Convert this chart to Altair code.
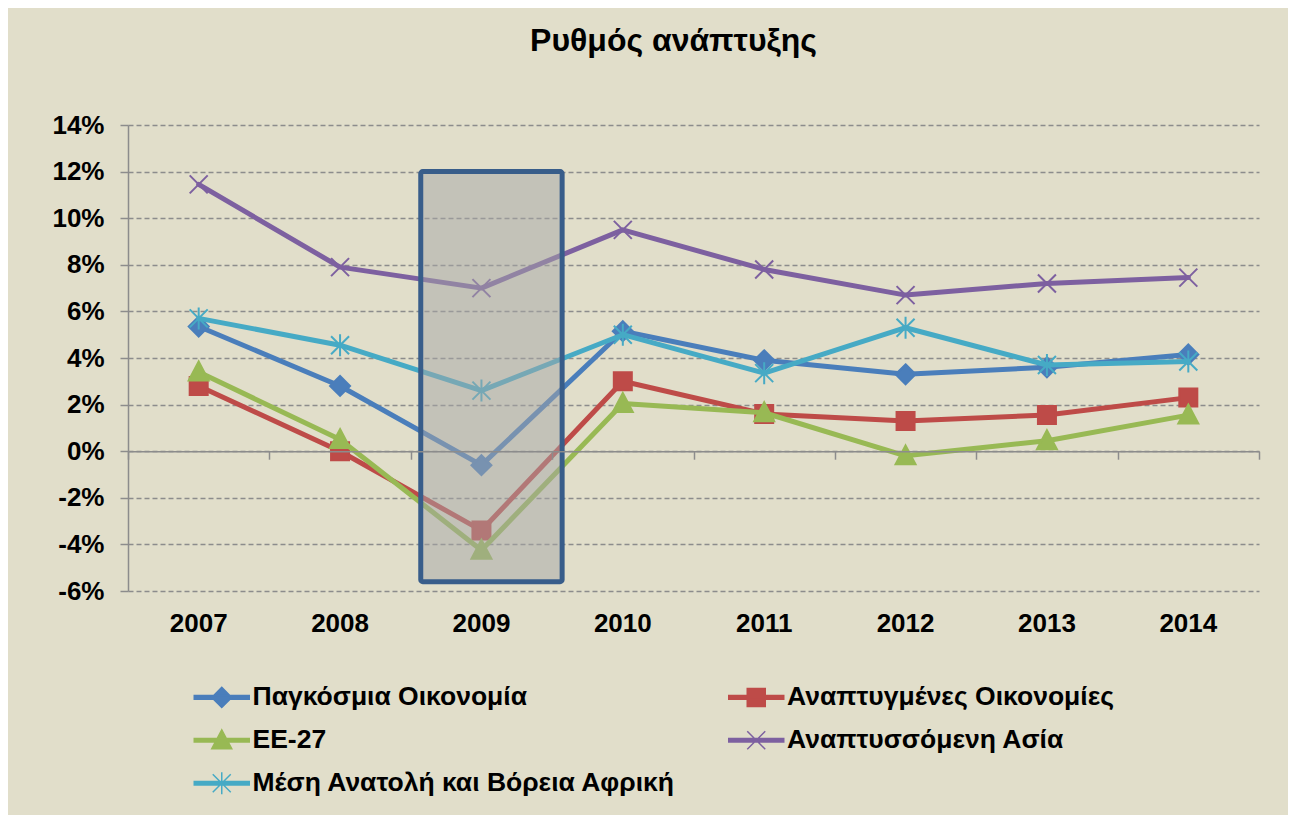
import altair as alt
import pandas as pd

# ---------------- data ----------------
years = ["2007", "2008", "2009", "2010", "2011", "2012", "2013", "2014"]
series_names = [
    "Παγκόσμια Οικονομία",
    "Αναπτυγμένες Οικονομίες",
    "ΕΕ-27",
    "Αναπτυσσόμενη Ασία",
    "Μέση Ανατολή και Βόρεια Αφρική",
]
world = [5.35, 2.8, -0.6, 5.15, 3.9, 3.3, 3.6, 4.15]
advanced = [2.8, 0.0, -3.4, 3.0, 1.6, 1.3, 1.55, 2.3]
eu27 = [3.4, 0.5, -4.25, 2.05, 1.65, -0.2, 0.45, 1.55]
asia = [11.45, 7.9, 7.0, 9.5, 7.8, 6.7, 7.2, 7.45]
mena = [5.7, 4.55, 2.6, 5.0, 3.35, 5.3, 3.7, 3.85]

box_year = ["2009"]
box_top = [12.0]
box_bottom = [-5.6]

title_text = "Ρυθμός ανάπτυξης"
y_ticks = [-6, -4, -2, 0, 2, 4, 6, 8, 10, 12, 14]

colors = ["#4A7EBB", "#BE4B48", "#98B954", "#7D60A0", "#46AAC5"]

marker_paths = [
    "M0,-1L1,0L0,1L-1,0Z",
    "M-0.9,-0.9H0.9V0.9H-0.9Z",
    "M0,-1.05L1,0.85H-1Z",
    "M-0.9,-0.9L0.9,0.9M-0.9,0.9L0.9,-0.9",
    "M-0.9,-0.9L0.9,0.9M-0.9,0.9L0.9,-0.9M0,-1.1V1.1",
]
legend_bar = "M-2.75,-0.18H2.75V0.18H-2.75Z"

# legend is filled column by column; this order gives the row-wise reading
legend_index = [0, 2, 4, 1, 3]
legend_order = [series_names[i] for i in legend_index]
legend_colors = [colors[i] for i in legend_index]
legend_paths = [legend_bar + marker_paths[i] for i in legend_index]

rows = []
for name, vals in zip(series_names, [world, advanced, eu27, asia, mena]):
    for yr, v in zip(years, vals):
        rows.append({"year": yr, "series": name, "value": v})
df = pd.DataFrame(rows)
box_df = pd.DataFrame({"year": box_year, "top": box_top, "bottom": box_bottom})

FONT = "Liberation Sans"
GRAY = "#8C8C8C"

x_scale = alt.Scale(type="band", domain=years, paddingInner=0, paddingOuter=0)
y_scale = alt.Scale(domain=[-6, 14], nice=False, zero=False)
col_scale = alt.Scale(domain=legend_order, range=legend_colors)
shape_scale = alt.Scale(domain=legend_order, range=legend_paths)

y_axis = alt.Axis(
    orient="left", values=y_ticks, labelExpr="datum.value + '%'", title=None,
    grid=True, gridDash=[5, 3], gridColor=GRAY, gridWidth=1.5,
    domainColor=GRAY, domainWidth=1.5, tickColor=GRAY, tickWidth=1.5,
    tickSize=8, labelPadding=16, labelFont=FONT, labelFontSize=26,
    labelFontWeight="bold", labelColor="black",
)
x_label_axis = alt.Axis(
    orient="bottom", title=None, domain=False, ticks=False, tickSize=0, grid=False,
    labelPadding=19, labelFont=FONT, labelFontSize=26,
    labelFontWeight="bold", labelColor="black", labelAngle=0,
)
x_tick_axis = alt.Axis(
    orient="bottom", title=None, labels=False, grid=False, domain=True, domainColor=GRAY,
    domainWidth=1.5, ticks=True, tickBand="extent", tickColor=GRAY,
    tickWidth=1.5, tickSize=8, offset=-139.8,
)

legend_kw = dict(
    title=None, orient="none", legendX=80.5, legendY=559, columns=2,
    columnPadding=48.5, rowPadding=15, symbolSize=400, symbolStrokeWidth=1.5,
    symbolOpacity=1, labelFont=FONT, labelFontSize=26.5, labelFontWeight="bold",
    labelColor="black", labelOffset=17.5, padding=0, labelLimit=1000,
)
LEG = alt.Legend(**legend_kw)

layers = []
for i, name in enumerate(series_names):
    sub = alt.Chart(df).transform_filter(alt.datum.series == name)
    line = sub.mark_line(strokeWidth=5, strokeJoin="round", strokeCap="round").encode(
        x=alt.X("year:O", scale=x_scale, axis=x_label_axis if i == 0 else None),
        y=alt.Y("value:Q", scale=y_scale, axis=y_axis),
        stroke=alt.Stroke("series:N", scale=col_scale, legend=LEG),
    )
    pts = sub.mark_point(shape=marker_paths[i], filled=True, size=400,
                         strokeWidth=2, opacity=1).encode(
        x=alt.X("year:O", scale=x_scale, axis=None),
        y=alt.Y("value:Q", scale=y_scale, axis=y_axis),
        fill=alt.Fill("series:N", scale=col_scale, legend=LEG),
        stroke=alt.Stroke("series:N", scale=col_scale, legend=LEG),
    )
    layers += [line, pts]

rect = alt.Chart(box_df).mark_rect(
    fill="#A6A6A6", fillOpacity=0.5, stroke="#385D8A", strokeWidth=5,
    cornerRadius=2, xOffset=10, x2Offset=5,
).encode(
    x=alt.X("year:O", scale=x_scale, axis=x_tick_axis),
    y=alt.Y("top:Q", scale=y_scale, axis=y_axis),
    y2="bottom:Q",
)
layers.append(rect)

legend_layer = alt.Chart(df).transform_filter("datum.value > 1000").mark_point(
    filled=True, size=400, strokeWidth=1.5, opacity=1
).encode(
    shape=alt.Shape("series:N", scale=shape_scale, legend=LEG),
    fill=alt.Fill("series:N", scale=col_scale, legend=LEG),
    stroke=alt.Stroke("series:N", scale=col_scale, legend=LEG),
)
layers.append(legend_layer)

chart = alt.layer(*layers).resolve_axis(x="independent").properties(
    width=1131, height=466,
    title=alt.TitleParams(title_text, font=FONT, fontSize=32, fontWeight="bold",
                          color="black", anchor="middle", offset=54, dx=-20),
    padding={"left": 120, "top": 117, "right": 29, "bottom": 224},
    autosize=alt.AutoSizeParams(type="none"),
    background="#E1DECA",
).configure_view(stroke=None)

chart.save("out.html", embed_options={"renderer": "svg", "actions": False})
